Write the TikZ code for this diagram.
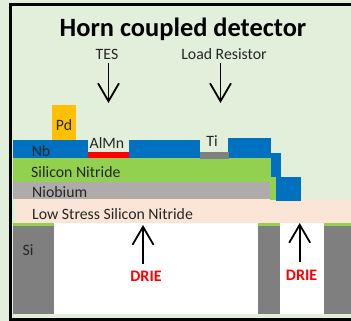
\documentclass[tikz,border=0pt]{standalone}
\usepackage{fontspec}
\setmainfont{Carlito}
\usepackage{tikz}
\usetikzlibrary{arrows.meta}
\definecolor{bgGreen}{HTML}{E2EFDA}
\definecolor{nbBlue}{HTML}{0070C0}
\definecolor{snGreen}{HTML}{92D050}
\definecolor{niGrey}{HTML}{AFABAB}
\definecolor{lsPeach}{HTML}{FBE5D6}
\definecolor{siGrey}{HTML}{7F7F7F}
\definecolor{pdGold}{HTML}{FFC000}
\tikzset{
  lbl/.style={inner sep=0pt,font=\fontsize{15.8}{17}\selectfont,text=black!85},
  drie/.style={inner sep=0pt,font=\fontsize{16}{17}\selectfont\bfseries,text=red},
  arr/.style={line width=1.8pt,-{Straight Barb[length=18pt,width=21pt]}},
}
\begin{document}
\begin{tikzpicture}[x=1pt,y=-1pt]
\useasboundingbox (0,0) rectangle (351,321);
\fill[bgGreen] (0,0) rectangle (351,321);
% Frame
\draw[line width=3pt] (351,5) -- (10.8,5) -- (10.8,319.5) -- (351,319.5);

% Silicon
\fill[white] (13,223) rectangle (351,314);
\fill[siGrey] (13,226) rectangle (54,314);
\fill[siGrey] (258,226) rectangle (280,314);
\fill[siGrey] (324,226) rectangle (351,314);
\fill[snGreen] (13,223) rectangle (54,226);
\fill[snGreen] (258,223) rectangle (280,226);
\fill[snGreen] (324,223) rectangle (351,226);

% Layers
\fill[lsPeach] (16,199) rectangle (351,223);
\fill[niGrey] (13,182) rectangle (270,199);
\fill[snGreen] (13,158) rectangle (271,182);
\fill[snGreen] (270,177) rectangle (276,200);
\fill[nbBlue] (13,140) rectangle (88,158);
\fill[nbBlue] (129,140) rectangle (200,158);
\fill[nbBlue] (228,138) rectangle (271,158);
\fill[nbBlue] (271,153) rectangle (281,177);
\fill[nbBlue] (276,177) rectangle (301,201);
\fill[pdGold] (52,105) rectangle (76,140);
\fill[red] (88,152) rectangle (129,158);
\fill[siGrey] (200,152) rectangle (229,159);

% Labels
\node[inner sep=0pt,font=\fontsize{26.4}{28}\selectfont\bfseries] (title) at (183,29) {Horn coupled detector};
\node[lbl] (tes) at (107,54) {TES};
\node[lbl] (load) at (224,54) {Load Resistor};
\node[lbl] (pd) at (64,125) {Pd};
\node[lbl] (nb) at (41,151) {Nb};
\node[lbl] (almn) at (107,143) {AlMn};
\node[lbl] (ti) at (212,141) {Ti};
\node[lbl,anchor=west] (sin) at (31,172) {Silicon Nitride};
\node[lbl,anchor=west] (niobium) at (32,192) {Niobium};
\node[lbl,anchor=west] (lssn) at (32,214) {Low Stress Silicon Nitride};
\node[lbl] (si) at (28,250) {Si};
\node[drie] (drieA) at (146,276) {DRIE};
\node[drie] (drieB) at (301.5,275) {DRIE};

% Arrows
\coordinate (tesEnd) at (108.5,103);
\coordinate (loadEnd) at (220.5,103);
\coordinate (drieAEnd) at (143,225);
\coordinate (drieBEnd) at (299.7,223);
\coordinate (tesStart) at (108.5,63);
\coordinate (loadStart) at (220.5,63);
\coordinate (drieAStart) at (143,264);
\coordinate (drieBStart) at (299.7,262);
\draw[arr] (tesStart) -- (tesEnd);
\draw[arr] (loadStart) -- (loadEnd);
\draw[arr] (drieAStart) -- (drieAEnd);
\draw[arr] (drieBStart) -- (drieBEnd);
\end{tikzpicture}
\end{document}
